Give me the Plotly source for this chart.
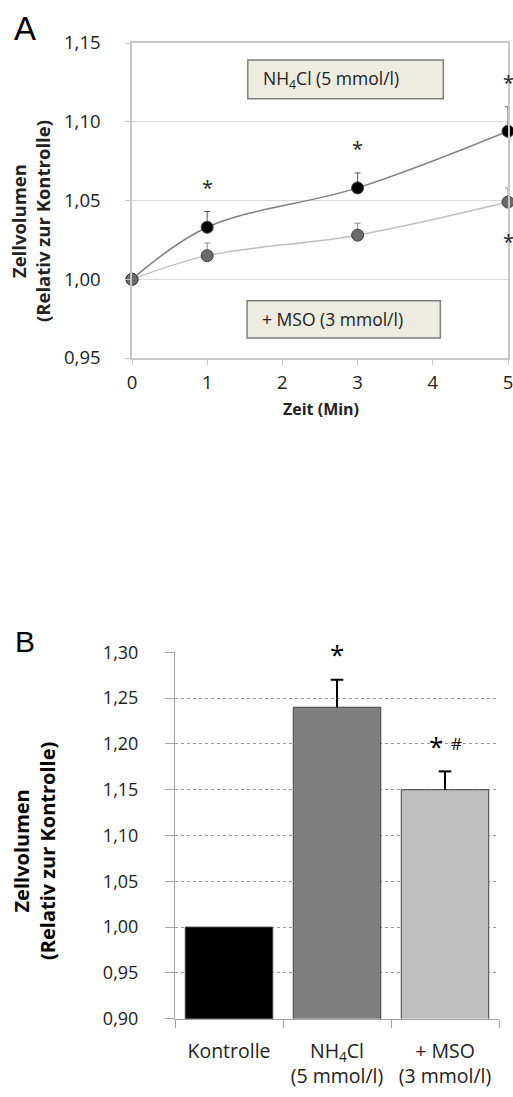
import plotly.graph_objects as go

# ---- Panel A: time course ----
zeit = [0, 1, 3, 5]
nh4cl_mean = [1.000, 1.033, 1.058, 1.094]
nh4cl_sem = [None, 0.010, 0.0095, 0.0155]
mso_mean = [1.000, 1.015, 1.028, 1.049]
mso_sem = [None, 0.008, 0.0076, 0.009]
# time points marked significant, and for which series
sig_nh4cl_t = [1, 3, 5]
sig_mso_t = [5]

# ---- Panel B: bar chart ----
gruppen = ["Kontrolle", "NH<sub>4</sub>Cl<br>(5 mmol/l)", "+ MSO<br>(3 mmol/l)"]
balken = [1.00, 1.24, 1.15]
balken_sem = [None, 0.03, 0.02]
balken_farben = ["#000000", "#7f7f7f", "#bfbfbf"]
balken_sig = ["", "*", "*"]
balken_hash = ["", "", "#"]

W, H = 513, 1097
FONT = "Open Sans"
INK = "#222222"


def px_x(p):
    return p / W


def px_y(p):
    return 1 - p / H


def zero_minus(vals):
    return [0 if v is not None else None for v in vals]


fig = go.Figure()

fig.add_trace(go.Scatter(
    x=zeit, y=nh4cl_mean, mode="lines+markers",
    line=dict(color="#7f7f7f", width=1.5, shape="spline"),
    marker=dict(size=12, color="#000000", line=dict(color="#404040", width=1)),
    error_y=dict(type="data", array=nh4cl_sem, arrayminus=zero_minus(nh4cl_sem), symmetric=False,
                 color="#595959", thickness=1, width=3),
    cliponaxis=False, xaxis="x", yaxis="y", showlegend=False,
))
fig.add_trace(go.Scatter(
    x=zeit, y=mso_mean, mode="lines+markers",
    line=dict(color="#bfbfbf", width=1.5, shape="spline"),
    marker=dict(size=12, color="#6a6a6a", line=dict(color="#404040", width=1)),
    error_y=dict(type="data", array=mso_sem, arrayminus=zero_minus(mso_sem), symmetric=False,
                 color="#8c8c8c", thickness=1, width=3),
    cliponaxis=False, xaxis="x", yaxis="y", showlegend=False,
))

fig.add_trace(go.Bar(
    x=gruppen, y=balken, base=0,
    marker=dict(color=balken_farben, line=dict(color="#404040", width=1)),
    xaxis="x2", yaxis="y2", showlegend=False, width=0.81,
))

# upper-only error whiskers for the bars (stem from bar top, cap at mean + SEM)
stem_x, stem_y, cap_x, cap_y = [], [], [], []
for g, m, s in zip(gruppen, balken, balken_sem):
    if s is None:
        continue
    stem_x += [g, g, None]
    stem_y += [m, m + s, None]
    cap_x.append(g)
    cap_y.append(m + s)
fig.add_trace(go.Scatter(
    x=stem_x, y=stem_y, mode="lines", line=dict(color="#000000", width=2),
    xaxis="x2", yaxis="y2", showlegend=False, hoverinfo="skip",
))
fig.add_trace(go.Scatter(
    x=cap_x, y=cap_y, mode="markers",
    marker=dict(symbol="line-ew-open", size=9, color="#000000",
                line=dict(color="#000000", width=2)),
    xaxis="x2", yaxis="y2", showlegend=False, hoverinfo="skip",
))

annotations = []
# significance marks, panel A
for t in sig_nh4cl_t:
    i = zeit.index(t)
    annotations.append(dict(x=t, y=nh4cl_mean[i] + nh4cl_sem[i] + 0.0155, xref="x", yref="y",
                            text="*", showarrow=False, yanchor="middle",
                            font=dict(family=FONT, size=20, color=INK)))
for t in sig_mso_t:
    i = zeit.index(t)
    annotations.append(dict(x=t, y=mso_mean[i] - 0.025, xref="x", yref="y",
                            text="*", showarrow=False, yanchor="middle",
                            font=dict(family=FONT, size=20, color=INK)))

# significance marks, panel B
for i, g in enumerate(gruppen):
    top = balken[i] + (balken_sem[i] or 0)
    if balken_sig[i]:
        shift = -9 if balken_hash[i] else 0
        annotations.append(dict(x=g, y=top + 0.028, xref="x2", yref="y2", text=balken_sig[i],
                                showarrow=False, yanchor="middle", xshift=shift,
                                font=dict(family=FONT, size=26, color="#000000")))
    if balken_hash[i]:
        annotations.append(dict(x=g, y=top + 0.030, xref="x2", yref="y2", text=balken_hash[i],
                                showarrow=False, yanchor="middle", xshift=11,
                                font=dict(family=FONT, size=17, color="#000000")))

# condition labels in panel A
shapes = []
for (x0, x1, y0, y1, txt) in [
    (1.54, 4.14, 1.1146, 1.1392, "NH<sub>4</sub>Cl (5 mmol/l)"),
    (1.53, 4.10, 0.9627, 0.9863, "+ MSO (3 mmol/l)"),
]:
    shapes.append(dict(type="rect", xref="x", yref="y", x0=x0, x1=x1, y0=y0, y1=y1,
                       fillcolor="#eeece1", line=dict(color="#7f7f7f", width=1.5), layer="above"))
    annotations.append(dict(x=x0 + 0.17, y=(y0 + y1) / 2, xref="x", yref="y", text=txt,
                            showarrow=False, xanchor="left", yanchor="middle",
                            font=dict(family=FONT, size=17.5, color=INK)))

# panel letters
annotations.append(dict(x=px_x(12), y=px_y(8), xref="paper", yref="paper", text="A",
                        showarrow=False, xanchor="left", yanchor="top",
                        font=dict(family="Liberation Sans", size=33, color="#000000")))
annotations.append(dict(x=px_x(13), y=px_y(623), xref="paper", yref="paper", text="B",
                        showarrow=False, xanchor="left", yanchor="top",
                        font=dict(family="Liberation Sans", size=30, color="#000000")))

# axis titles
annotations.append(dict(x=px_x(31), y=px_y(221), xref="paper", yref="paper",
                        text="<b>Zellvolumen<br>(Relativ zur Kontrolle)</b>", textangle=-90,
                        showarrow=False, xanchor="center", yanchor="middle",
                        font=dict(family=FONT, size=18.5, color=INK)))
annotations.append(dict(x=px_x(321), y=px_y(409), xref="paper", yref="paper",
                        text="<b>Zeit (Min)</b>", showarrow=False, xanchor="center", yanchor="middle",
                        font=dict(family=FONT, size=16, color=INK)))
annotations.append(dict(x=px_x(34), y=px_y(851), xref="paper", yref="paper",
                        text="<b>Zellvolumen<br>(Relativ zur Kontrolle)</b>", textangle=-90,
                        showarrow=False, xanchor="center", yanchor="middle",
                        font=dict(family=FONT, size=20, color="#000000")))

fig.update_layout(
    width=W, height=H, margin=dict(l=0, r=0, t=0, b=0, autoexpand=False),
    paper_bgcolor="white", plot_bgcolor="white",
    separators=",.",
    annotations=annotations, shapes=shapes,
    xaxis=dict(domain=[px_x(132), px_x(508)], range=[0, 5], tickvals=[0, 1, 2, 3, 4, 5],
               showgrid=False, zeroline=False, showline=True, linecolor="#c8c8c8", linewidth=1.5,
               mirror=True, ticks="outside", ticklen=5, tickcolor="#c8c8c8",
               tickfont=dict(family=FONT, size=18.5, color=INK), ticklabeloverflow="allow",
               ticklabelstandoff=2, anchor="y", fixedrange=True, automargin=False),
    yaxis=dict(domain=[px_y(358), px_y(43)], range=[0.95, 1.15], dtick=0.05, tick0=0.95,
               tickformat=".2f", showgrid=True, gridcolor="#d9d9d9", gridwidth=1,
               zeroline=False, showline=True, linecolor="#c8c8c8", linewidth=1.5, mirror=True,
               ticks="outside", ticklen=5, tickcolor="#c8c8c8",
               tickfont=dict(family=FONT, size=18.5, color=INK), ticklabeloverflow="allow",
               ticklabelstandoff=21, anchor="x", fixedrange=True, automargin=False),
    xaxis2=dict(domain=[px_x(175), px_x(499)], range=[-0.5, 2.5], type="category",
                categoryorder="array", categoryarray=gruppen,
                showgrid=False, zeroline=False, showline=True, linecolor="#a6a6a6", linewidth=1,
                ticks="outside", tickson="boundaries", ticklen=8, tickcolor="#a6a6a6",
                tickfont=dict(family=FONT, size=19.5, color=INK), ticklabeloverflow="allow",
                ticklabelstandoff=15, anchor="y2", fixedrange=True, automargin=False),
    yaxis2=dict(domain=[px_y(1018.7), px_y(652.3)], range=[0.9, 1.3], dtick=0.05, tick0=0.9,
                tickformat=".2f", showgrid=True, gridcolor="#9a9a9a", gridwidth=1, griddash="dot",
                zeroline=False, showline=True, linecolor="#a6a6a6", linewidth=1,
                ticks="outside", ticklen=9, tickcolor="#a6a6a6",
                tickfont=dict(family=FONT, size=18, color=INK), ticklabeloverflow="allow",
                ticklabelstandoff=23, anchor="x2", fixedrange=True, automargin=False),
)

fig.write_html("out.html")
